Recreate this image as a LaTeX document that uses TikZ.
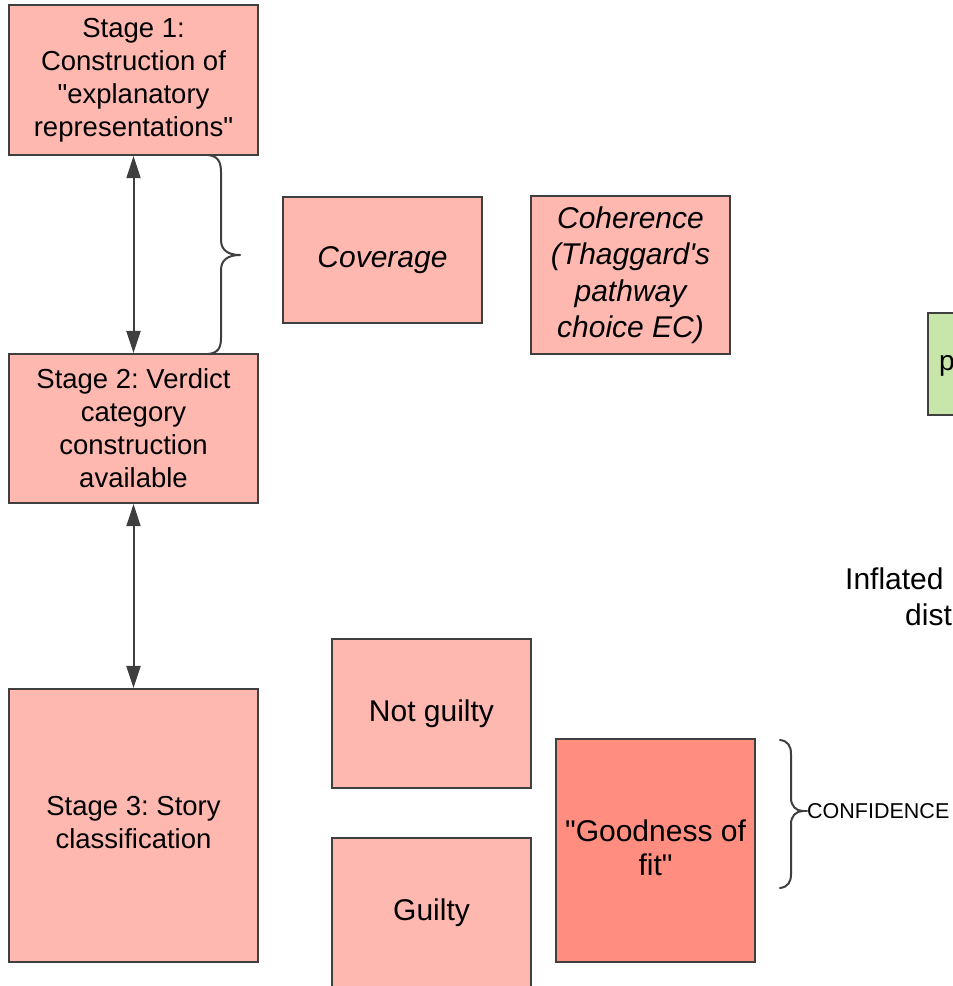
\documentclass[tikz,border=0pt]{standalone}
\usepackage{fontspec}
\setmainfont{Liberation Sans}[Ligatures=TeXOff]
\usetikzlibrary{arrows.meta}
\definecolor{boxpink}{HTML}{FFB8B0}
\definecolor{boxred}{HTML}{FF8D80}
\definecolor{boxgreen}{HTML}{C8E6A9}
\definecolor{edgegray}{HTML}{3F3F3F}
\frenchspacing
\begin{document}
\begin{tikzpicture}[x=1pt,y=-1pt,
  box/.style={draw=edgegray,line width=2.2pt,fill=boxpink,inner sep=0pt,align=center},
  stagebox/.style={box,font=\fontsize{27.5}{33}\selectfont},
  termbox/.style={box,font=\fontsize{30}{36.5}\selectfont},
  link/.style={draw=edgegray,line width=2pt,{Triangle[width=14pt,length=22pt]}-{Triangle[width=14pt,length=22pt]}},
  bracepath/.style={draw=edgegray,line width=2pt,line cap=round,line join=round}]
\useasboundingbox (0,0) rectangle (953,986);
\begin{scope}
\clip (0,0) rectangle (953,986);

% stages of the model
\node[stagebox,minimum width=249pt,minimum height=150pt] (s1) at (133.5,80)
  {Stage 1:\\Construction of\\"explanatory\\representations"};
\node[stagebox,minimum width=249pt,minimum height=149pt] (s2) at (133.5,428.5)
  {Stage 2: Verdict\\category\\construction\\available};
\node[stagebox,minimum width=249pt,minimum height=273pt,text depth=6pt] (s3) at (133.5,825.5)
  {Stage 3: Story\\classification};

% criteria and verdicts
\node[termbox,minimum width=199pt,minimum height=126pt,font=\fontsize{30}{36.5}\selectfont\itshape] (cov) at (382.5,260) {Coverage};
\node[termbox,minimum width=199pt,minimum height=158pt,font=\fontsize{30}{36.5}\selectfont\itshape] (coh) at (630.5,275)
  {Coherence\\(Thaggard's\\pathway\\choice EC)};
\node[termbox,minimum width=199pt,minimum height=149pt] (ng) at (431.5,713.5) {Not guilty};
\node[termbox,minimum width=199pt,minimum height=149pt] (g) at (431.5,912.5) {Guilty};
\node[termbox,fill=boxred,minimum width=199pt,minimum height=223pt,
  font=\fontsize{30}{34}\selectfont,text depth=6pt] (fit) at (655.5,850.5)
  {"Goodness of\\fit"};

% right-hand elements
\node[box,fill=boxgreen,minimum width=199pt,minimum height=102pt] (gr) at (1027.5,364) {};
\node[anchor=base west,inner sep=0pt,font=\fontsize{28}{33}\selectfont] (p) at (939,370) {p};
\node[anchor=base west,inner sep=0pt,font=\fontsize{30}{36}\selectfont] (infl) at (845,589) {Inflated};
\node[anchor=base west,inner sep=0pt,font=\fontsize{30}{36}\selectfont] (dist) at (905,625) {dist};
\node[anchor=west,inner sep=0pt,font=\fontsize{21.5}{26}\selectfont] (conf) at (807,811) {CONFIDENCE};

% links between stages
\draw[link] (s1.south) -- (s2.north);
\draw[link] (s2.south) -- (s3.north);

% brace spanning stages 1 and 2
\coordinate (b1t) at (208,155);
\coordinate (b1b) at (208,354);
\coordinate (b1tip) at (240,255);
\draw[bracepath] (b1t) .. controls (218,156) and (221,162) .. (221,172)
  -- (221,240) .. controls (221,250) and (228,255) .. (b1tip)
  .. controls (228,255) and (221,260) .. (221,270)
  -- (221,338) .. controls (221,348) and (218,353) .. (b1b);

% brace grouping the confidence judgement
\coordinate (b2t) at (780,740);
\coordinate (b2b) at (780,888);
\draw[bracepath] (b2t) .. controls (788,741) and (791,746) .. (791,754)
  -- (791,798) .. controls (791,806) and (796,811) .. (803,811)
  .. controls (796,811) and (791,816) .. (791,824)
  -- (791,874) .. controls (791,882) and (788,887) .. (b2b);
\draw[bracepath] (803,811) -- (conf.west);
\end{scope}
\end{tikzpicture}
\end{document}
